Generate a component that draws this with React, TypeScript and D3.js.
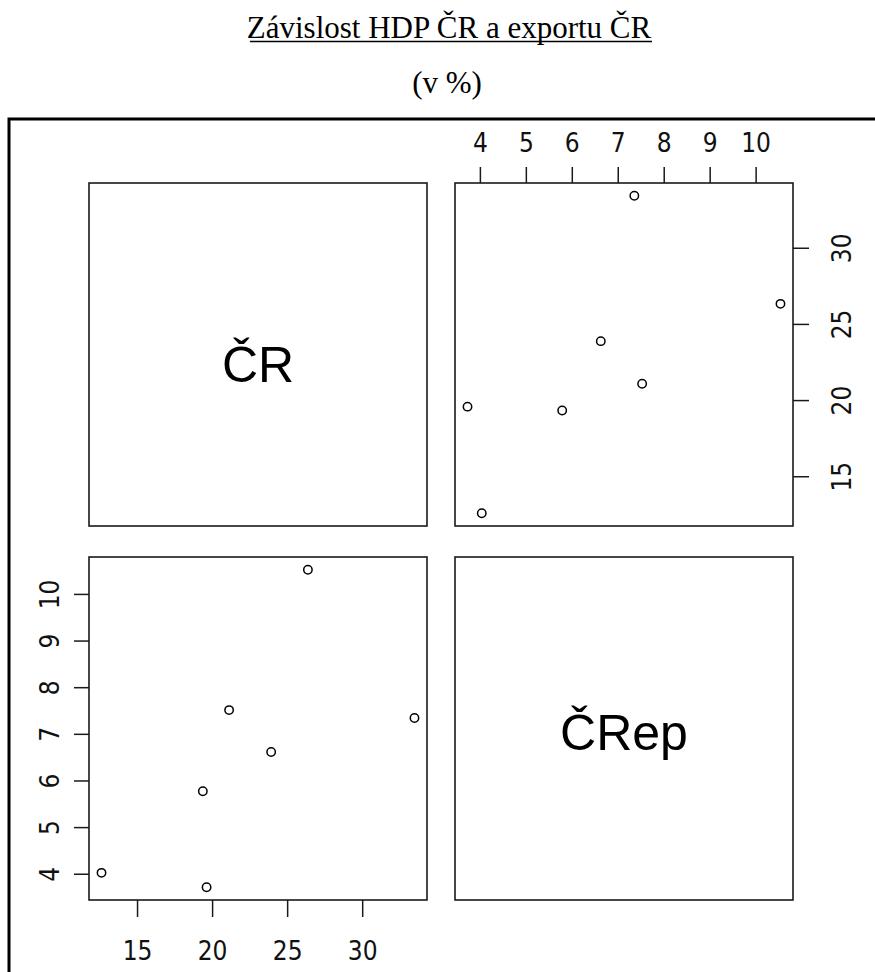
import React from "react";
import * as d3 from "d3";

// Data (values in %)
const labels = ["ČR", "ČRep"];
const crValues = [12.6, 19.6, 19.35, 21.1, 23.9, 26.35, 33.45];
const crepValues = [4.03, 3.72, 5.78, 7.52, 6.62, 10.53, 7.35];
const crTicks = [15, 20, 25, 30];
const crepTicks = [4, 5, 6, 7, 8, 9, 10];
const titleText = "Závislost HDP ČR a exportu ČR";
const subtitleText = "(v %)";

const W = 875;
const H = 972;

// panel boxes
const col = [
  { x0: 89, x1: 427 },
  { x0: 455, x1: 793 },
];
const row = [
  { y0: 183, y1: 526 },
  { y0: 557, y1: 900 },
];

function padded(vals: number[]): [number, number] {
  const [a, b] = d3.extent(vals) as [number, number];
  const p = (b - a) * 0.04;
  return [a - p, b + p];
}

const tickFont = "'Liberation Sans Narrow', 'DejaVu Sans Condensed', 'Arial Narrow', sans-serif";
const labelFont = "'Liberation Sans', Arial, Helvetica, sans-serif";
const serif = "'Liberation Serif', 'Times New Roman', Times, serif";

export default function App() {
  const crDom = padded(crValues);
  const crepDom = padded(crepValues);

  // top-right: x = ČRep, y = ČR
  const trX = d3.scaleLinear().domain(crepDom).range([col[1].x0, col[1].x1]);
  const trY = d3.scaleLinear().domain(crDom).range([row[0].y1, row[0].y0]);
  // bottom-left: x = ČR, y = ČRep
  const blX = d3.scaleLinear().domain(crDom).range([col[0].x0, col[0].x1]);
  const blY = d3.scaleLinear().domain(crepDom).range([row[1].y1, row[1].y0]);

  const stroke = "#1a1a1a";
  const panel = (x0: number, y0: number, x1: number, y1: number, key: string) => (
    <rect key={key} x={x0} y={y0} width={x1 - x0} height={y1 - y0} fill="none" stroke={stroke} strokeWidth={1.6} />
  );

  const tickFs = 26;

  return (
    <svg width={W} height={H} style={{ position: "absolute", left: 0, top: 0, background: "#fff" }}>
      <rect x={0} y={0} width={W} height={H} fill="#fff" />
      {/* Title */}
      <text x={449} y={38} textAnchor="middle" fontFamily={serif} fontSize={31} fill="#000">
        {titleText}
      </text>
      <line x1={250} x2={652} y1={41.5} y2={41.5} stroke="#000" strokeWidth={1.5} />
      <text x={447} y={93} textAnchor="middle" fontFamily={serif} fontSize={31} fill="#000">
        {subtitleText}
      </text>

      {/* Outer border */}
      <rect x={9} y={119} width={1000} height={1000} fill="none" stroke="#000" strokeWidth={3} />

      {/* Panels */}
      {panel(col[0].x0, row[0].y0, col[0].x1, row[0].y1, "tl")}
      {panel(col[1].x0, row[0].y0, col[1].x1, row[0].y1, "tr")}
      {panel(col[0].x0, row[1].y0, col[0].x1, row[1].y1, "bl")}
      {panel(col[1].x0, row[1].y0, col[1].x1, row[1].y1, "br")}

      {/* Diagonal labels */}
      <text x={(col[0].x0 + col[0].x1) / 2} y={(row[0].y0 + row[0].y1) / 2 + 27} textAnchor="middle"
        fontFamily={labelFont} fontSize={50} fill="#000">{labels[0]}</text>
      <text x={(col[1].x0 + col[1].x1) / 2} y={(row[1].y0 + row[1].y1) / 2 + 21} textAnchor="middle"
        fontFamily={labelFont} fontSize={50} fill="#000">{labels[1]}</text>

      {/* Top axis (ČRep) over top-right panel */}
      {crepTicks.map((t) => (
        <g key={"tt" + t}>
          <line x1={trX(t)} x2={trX(t)} y1={row[0].y0} y2={row[0].y0 - 16} stroke={stroke} strokeWidth={1.5} />
          <text x={trX(t)} y={152} textAnchor="middle" fontFamily={tickFont} fontSize={tickFs} fill="#111">{t}</text>
        </g>
      ))}
      {/* Right axis (ČR) for top-right panel */}
      {crTicks.map((t) => (
        <g key={"rt" + t}>
          <line x1={col[1].x1} x2={col[1].x1 + 16} y1={trY(t)} y2={trY(t)} stroke={stroke} strokeWidth={1.5} />
          <text transform={`translate(851,${trY(t)}) rotate(-90)`} textAnchor="middle" fontFamily={tickFont}
            fontSize={tickFs} fill="#111">{t}</text>
        </g>
      ))}
      {/* Left axis (ČRep) for bottom-left panel */}
      {crepTicks.map((t) => (
        <g key={"lt" + t}>
          <line x1={col[0].x0} x2={col[0].x0 - 15} y1={blY(t)} y2={blY(t)} stroke={stroke} strokeWidth={1.5} />
          <text transform={`translate(59,${blY(t)}) rotate(-90)`} textAnchor="middle" fontFamily={tickFont}
            fontSize={tickFs} fill="#111">{t}</text>
        </g>
      ))}
      {/* Bottom axis (ČR) for bottom-left panel */}
      {crTicks.map((t) => (
        <g key={"bt" + t}>
          <line x1={blX(t)} x2={blX(t)} y1={row[1].y1} y2={row[1].y1 + 17} stroke={stroke} strokeWidth={1.5} />
          <text x={blX(t)} y={960} textAnchor="middle" fontFamily={tickFont} fontSize={tickFs} fill="#111">{t}</text>
        </g>
      ))}

      {/* Points */}
      {crValues.map((v, i) => (
        <circle key={"tr" + i} cx={trX(crepValues[i])} cy={trY(v)} r={4.2} fill="none" stroke="#000" strokeWidth={1.5} />
      ))}
      {crValues.map((v, i) => (
        <circle key={"bl" + i} cx={blX(v)} cy={blY(crepValues[i])} r={4.2} fill="none" stroke="#000" strokeWidth={1.5} />
      ))}
    </svg>
  );
}
